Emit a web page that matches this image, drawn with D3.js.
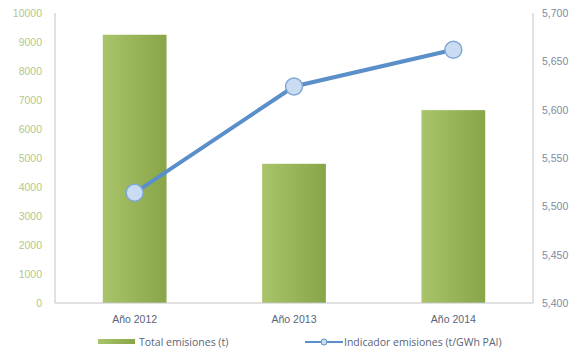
<!DOCTYPE html>
<html>
<head>
<meta charset="utf-8">
<script src="https://cdn.jsdelivr.net/npm/d3@7"></script>
<style>
  body { margin: 0; background: #fff; }
  svg { display: block; font-family: "Open Sans", "Noto Sans", sans-serif; }
</style>
</head>
<body>
<div id="chart"></div>
<script>
// Chart values.
const years = ['Año 2012', 'Año 2013', 'Año 2014'];
const totalEmisiones = [9250, 4800, 6650];
const indicadorEmisiones = [5514, 5624, 5662];
const leftTicks = [0, 1000, 2000, 3000, 4000, 5000, 6000, 7000, 8000, 9000, 10000];
const rightTicks = [5400, 5450, 5500, 5550, 5600, 5650, 5700];
const legendLabels = ['Total emisiones (t)', 'Indicador emisiones (t/GWh PAI)'];

const width = 576, height = 351;
const m = { top: 13, right: 43, bottom: 48, left: 55 };
const innerW = width - m.left - m.right;
const innerH = height - m.top - m.bottom;

const svg = d3.select('#chart').append('svg').attr('width', width).attr('height', height);

// Horizontal gradient gives the bars their lighter-left, darker-right look.
const grad = svg.append('defs').append('linearGradient').attr('id', 'barGrad')
  .attr('x1', '0%').attr('x2', '100%').attr('y1', '0%').attr('y2', '0%');
grad.append('stop').attr('offset', '0%').attr('stop-color', '#a9c46a');
grad.append('stop').attr('offset', '100%').attr('stop-color', '#88a548');

const g = svg.append('g').attr('transform', `translate(${m.left},${m.top})`);

const x = d3.scaleBand().domain(years).range([0, innerW]).paddingInner(0.6).paddingOuter(0.3);
const yL = d3.scaleLinear().domain([0, 10000]).range([innerH, 0]);
const yR = d3.scaleLinear().domain([5400, 5700]).range([innerH, 0]);

// Bars for total emissions.
g.selectAll('rect.bar')
  .data(years)
  .enter().append('rect')
  .attr('class', 'bar')
  .attr('x', d => x(d))
  .attr('width', x.bandwidth())
  .attr('y', (d, i) => yL(totalEmisiones[i]))
  .attr('height', (d, i) => innerH - yL(totalEmisiones[i]))
  .attr('fill', 'url(#barGrad)');

// Plot frame: left, bottom, right.
const frame = '#c4c4c4';
g.append('line').attr('x1', 0).attr('x2', 0).attr('y1', 0).attr('y2', innerH).attr('stroke', frame);
g.append('line').attr('x1', 0).attr('x2', innerW).attr('y1', innerH).attr('y2', innerH).attr('stroke', frame);
g.append('line').attr('x1', innerW).attr('x2', innerW).attr('y1', 0).attr('y2', innerH).attr('stroke', frame);

// Left axis (tonnes).
const axL = g.append('g')
  .call(d3.axisLeft(yL).tickValues(leftTicks).tickSize(0).tickPadding(13).tickFormat(d3.format('d')));
axL.select('.domain').remove();
axL.selectAll('text').attr('fill', '#b3c78c').style('font-size', '10.5px');

// Right axis (indicator).
const axR = g.append('g').attr('transform', `translate(${innerW},0)`)
  .call(d3.axisRight(yR).tickValues(rightTicks).tickSize(0).tickPadding(9).tickFormat(d3.format(',')));
axR.select('.domain').remove();
axR.selectAll('text').attr('fill', '#7d8ba3').style('font-size', '10.5px');

// Category labels.
const axB = g.append('g').attr('transform', `translate(0,${innerH})`)
  .call(d3.axisBottom(x).tickSize(0).tickPadding(13));
axB.select('.domain').remove();
axB.selectAll('text').attr('fill', '#5a6478').style('font-size', '10.5px');

// Indicator line with round markers.
const cx = d => x(d) + x.bandwidth() / 2;
const line = d3.line().x(d => cx(d)).y((d, i) => yR(indicadorEmisiones[i]));
g.append('path')
  .datum(years)
  .attr('fill', 'none')
  .attr('stroke', '#5b8fca')
  .attr('stroke-width', 4)
  .attr('d', line);

g.selectAll('circle.pt')
  .data(years)
  .enter().append('circle')
  .attr('class', 'pt')
  .attr('cx', d => cx(d))
  .attr('cy', (d, i) => yR(indicadorEmisiones[i]))
  .attr('r', 8.5)
  .attr('fill', '#c9dcf1')
  .attr('stroke', '#7ea6d6')
  .attr('stroke-width', 1.5);

// Legend.
const leg = svg.append('g').attr('transform', 'translate(0,342)');
leg.append('rect').attr('x', 98).attr('y', -3).attr('width', 37).attr('height', 5).attr('fill', 'url(#barGrad)');
leg.append('text').attr('x', 139).attr('y', 4).text(legendLabels[0])
  .attr('fill', '#5a6478').style('font-size', '10.5px');
leg.append('line').attr('x1', 305).attr('x2', 343).attr('y1', 0).attr('y2', 0)
  .attr('stroke', '#5b8fca').attr('stroke-width', 2);
leg.append('circle').attr('cx', 324).attr('cy', 0).attr('r', 3)
  .attr('fill', '#c9dcf1').attr('stroke', '#5b8fca');
leg.append('text').attr('x', 344).attr('y', 4).text(legendLabels[1])
  .attr('fill', '#5a6478').style('font-size', '10.5px');
</script>
</body>
</html>
